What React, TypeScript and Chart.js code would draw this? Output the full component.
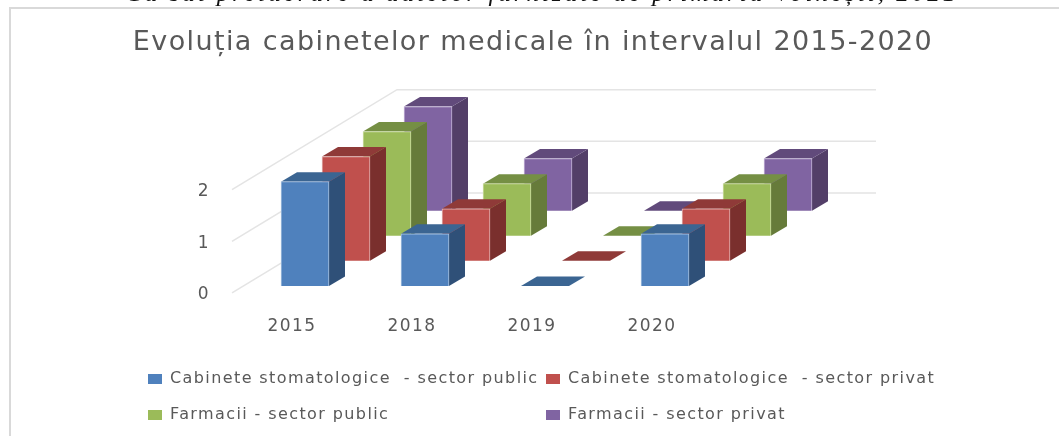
import React, { useEffect, useRef } from "react";
import { Chart, registerables } from "chart.js";

Chart.register(...registerables);

const categories = ["2015", "2018", "2019", "2020"];
const seriesNames = [
  "Cabinete stomatologice  - sector public",
  "Cabinete stomatologice  - sector privat",
  "Farmacii - sector public",
  "Farmacii - sector privat",
];
const dentalPublic = [2, 1, 0, 1];
const dentalPrivate = [2, 1, 0, 1];
const pharmacyPublic = [2, 1, 0, 1];
const pharmacyPrivate = [2, 1, 0, 1];
const seriesValues = [dentalPublic, dentalPrivate, pharmacyPublic, pharmacyPrivate];
const yTickValues = [0, 1, 2];
const titleText = "Evoluția cabinetelor medicale în intervalul 2015-2020";
const captionText = "Ca sat prelucrare a datelor furnizate de primăria Voinești, 2021";

const frontColors = ["#4F81BD", "#C0504D", "#9BBB59", "#8064A2"];
const sideColors = ["#2F5078", "#7A2F2D", "#667B3A", "#533F68"];
const topColors = ["#3B6592", "#8F3A38", "#758F44", "#614A7B"];
const edgeColors = ["#A9C3E2", "#E3B5B3", "#CFE0A8", "#C7B8DA"];

const W = 1059;
const H = 436;
const areaLeft = 232;
const areaTop = 70;
const areaBottom = 312;
const wallInsetRight = 183;
const wallDx = 165;
const wallDy = 100;
const boxDx = 16;
const boxDy = 9.5;
const unitX = 120;
const unitY = 52;
const rowDx = 41;
const rowDy = 25;
const textSpacing = "1.4px";

const tickFont = { family: "'DejaVu Sans', sans-serif", size: 17 };
const textColor = "#595959";

const xRange = (i: number) => {
  const min = -(305 + rowDx * i - areaLeft) / unitX;
  return { min, max: min + (W - areaLeft) / unitX };
};
const yRange = (i: number) => {
  const base = 286 - rowDy * i;
  return { min: -(areaBottom - base) / unitY, max: (base - areaTop) / unitY };
};

const depthPlugin = {
  id: "depth",
  beforeUpdate(chart: any) {
    chart.ctx.letterSpacing = textSpacing;
  },
  afterLayout(chart: any) {
    const legend = chart.legend;
    legend.left = 128;
    legend.top = 351;
    legend.maxHeight = 110;
    legend.bottom = 461;
    legend.fit();
    legend.columnSizes[0].width = 378;
  },
  beforeDraw(chart: any) {
    const { ctx } = chart;
    ctx.letterSpacing = textSpacing;
    ctx.save();
    ctx.fillStyle = "#ffffff";
    ctx.fillRect(0, 0, W, H);
    ctx.fillStyle = "#D9D9D9";
    ctx.fillRect(9, 7, W - 9, 2);
    ctx.fillRect(9, 7, 2, H - 7);
    ctx.fillStyle = "#111111";
    ctx.font = "italic 25px 'Liberation Serif', serif";
    ctx.letterSpacing = "3px";
    ctx.textBaseline = "alphabetic";
    ctx.fillText(captionText, 125, 0.5);
    ctx.restore();
  },
  beforeDatasetsDraw(chart: any) {
    const { ctx, chartArea } = chart;
    const yScale = chart.scales.y;
    const right = chartArea.right - wallInsetRight;
    ctx.save();
    ctx.strokeStyle = "#E4E4E4";
    ctx.lineWidth = 1.5;
    yTickValues.forEach((v) => {
      const py = yScale.getPixelForValue(v);
      ctx.beginPath();
      ctx.moveTo(chartArea.left, py);
      ctx.lineTo(chartArea.left + wallDx, py - wallDy);
      ctx.lineTo(right, py - wallDy);
      ctx.stroke();
    });
    ctx.restore();
  },
  beforeDatasetDraw(chart: any, args: any) {
    const { ctx } = chart;
    const i = args.index;
    ctx.save();
    args.meta.data.forEach((bar: any) => {
      const { x, y, base, width } = bar.getProps(["x", "y", "base", "width"], true);
      const l = x - width / 2;
      const r = x + width / 2;
      if (base - y > 0.5) {
        ctx.fillStyle = sideColors[i];
        ctx.beginPath();
        ctx.moveTo(r, y);
        ctx.lineTo(r + boxDx, y - boxDy);
        ctx.lineTo(r + boxDx, base - boxDy);
        ctx.lineTo(r, base);
        ctx.closePath();
        ctx.fill();
      }
      ctx.fillStyle = topColors[i];
      ctx.beginPath();
      ctx.moveTo(l, y);
      ctx.lineTo(l + boxDx, y - boxDy);
      ctx.lineTo(r + boxDx, y - boxDy);
      ctx.lineTo(r, y);
      ctx.closePath();
      ctx.fill();
    });
    ctx.restore();
  },
};

const xScaleId = (i: number) => (i === 0 ? "x" : `x${i}`);
const yScaleId = (i: number) => `yBar${i}`;

export default function App() {
  const ref = useRef<HTMLCanvasElement>(null);
  useEffect(() => {
    const scales: any = {
      y: {
        type: "linear",
        position: "left",
        min: -(areaBottom - 293) / 51.5,
        max: (293 - areaTop) / 51.5,
        afterBuildTicks: (s: any) => {
          s.ticks = yTickValues.map((value) => ({ value }));
        },
        afterFit: (s: any) => {
          s.width = areaLeft - 7;
        },
        grid: { display: false, drawTicks: false },
        border: { display: false },
        ticks: { font: tickFont, color: textColor, padding: 22, labelOffset: 2 },
      },
    };
    seriesValues.forEach((_, i) => {
      const xr = xRange(i);
      const yr = yRange(i);
      scales[yScaleId(i)] = { type: "linear", display: false, position: "left", min: yr.min, max: yr.max };
      scales[xScaleId(i)] =
        i === 0
          ? {
              type: "linear",
              position: "bottom",
              offset: false,
              min: xr.min,
              max: xr.max,
              afterBuildTicks: (s: any) => {
                s.ticks = categories.map((_c, value) => ({ value }));
              },
              afterFit: (s: any) => {
                s.height = H - areaBottom;
              },
              grid: { display: false, drawTicks: false, offset: false },
              border: { display: false },
              ticks: {
                font: tickFont,
                color: textColor,
                padding: 4,
                maxRotation: 0,
                autoSkip: false,
                labelOffset: -13,
                callback: (v: number) => categories[v],
              },
            }
          : { type: "linear", display: false, position: "bottom", offset: false, min: xr.min, max: xr.max };
    });
    const chart = new Chart(ref.current!, {
      type: "bar",
      data: {
        datasets: seriesNames.map((label, i) => ({
          label,
          data: seriesValues[i].map((y, x) => ({ x, y })),
          xAxisID: xScaleId(i),
          yAxisID: yScaleId(i),
          backgroundColor: frontColors[i],
          borderColor: edgeColors[i],
          borderWidth: 1,
          barThickness: 48,
          grouped: false,
          clip: false as any,
        })),
      } as any,
      options: {
        responsive: false,
        animation: false,
        scales,
        layout: { padding: { left: 7, right: 0, top: 0, bottom: 0 } },
        plugins: {
          tooltip: { enabled: false },
          title: {
            display: true,
            text: titleText,
            color: textColor,
            font: { family: "'DejaVu Sans', sans-serif", size: 27, weight: "normal" },
            padding: { top: 27, bottom: 10 },
          },
          legend: {
            position: "chartArea" as any,
            align: "start",
            labels: {
              boxWidth: 14,
              boxHeight: 10,
              padding: 20,
              color: textColor,
              font: { family: "'DejaVu Sans', sans-serif", size: 16 },
              generateLabels: (c: any) =>
                [0, 2, 1, 3].map((i) => ({
                  text: c.data.datasets[i].label,
                  fillStyle: frontColors[i],
                  strokeStyle: frontColors[i],
                  lineWidth: 0,
                  datasetIndex: i,
                  fontColor: textColor,
                })),
            },
          },
        },
      } as any,
      plugins: [depthPlugin],
    });
    return () => chart.destroy();
  }, []);
  return (
    <canvas
      ref={ref}
      width={W}
      height={H}
      style={{ position: "fixed", left: 0, top: 0, display: "block", width: W, height: H }}
    />
  );
}
